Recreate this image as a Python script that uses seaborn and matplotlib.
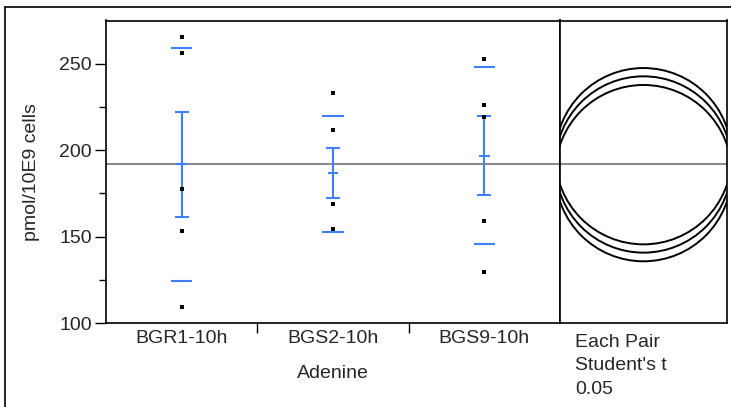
import numpy as np
import pandas as pd
import matplotlib
matplotlib.use("Agg")
import matplotlib.pyplot as plt
from matplotlib.patches import Circle
from matplotlib.lines import Line2D
import seaborn as sns

# values
groups = ["BGR1-10h", "BGS2-10h", "BGS9-10h"]
bgr1_points = [265.3, 256.4, 177.4, 153.1, 109.2]
bgs2_points = [233.2, 211.6, 168.9, 154.1]
bgs9_points = [252.5, 226.2, 219.3, 158.9, 129.7]
group_means = [191.7, 186.7, 196.5]
se_low = [161.4, 172.2, 174.1]
se_high = [221.8, 201.3, 219.7]
sd_low = [124.3, 152.7, 145.7]
sd_high = [258.9, 219.9, 248.3]
grand_mean = 191.7
circle_radius = 51.0
circle_text = ["Each Pair", "Student's t", "0.05"]

sns.set_theme(style="white")
plt.rcParams['font.family'] = ['Liberation Sans', 'DejaVu Sans']
fs = 14

df = pd.DataFrame({
    "group": [groups[0]] * len(bgr1_points) + [groups[1]] * len(bgs2_points) + [groups[2]] * len(bgs9_points),
    "value": bgr1_points + bgs2_points + bgs9_points,
})

W, H = 731, 407
fig = plt.figure(figsize=(W / 100, H / 100), dpi=100)
top, bottom = 20.5, 323
ax = fig.add_axes([106 / W, 1 - bottom / H, (560 - 106) / W, (bottom - top) / H])
ax2 = fig.add_axes([560 / W, 1 - bottom / H, (727 - 560) / W, (bottom - top) / H])

blue = "#3F7FFF"
ylim = (100, 275)

# points
sns.stripplot(data=df, x="group", y="value", order=groups, jitter=False,
              marker="s", size=2.6, color="black", linewidth=0, ax=ax, zorder=4)

x = np.arange(len(groups))
ax.axhline(grand_mean, color="#8a8a8a", lw=1.5, zorder=1)
ax.errorbar(x, group_means,
            yerr=[np.array(group_means) - np.array(se_low), np.array(se_high) - np.array(group_means)],
            fmt="none", ecolor=blue, elinewidth=1.5, capsize=5, capthick=1.5, zorder=3)
ax.hlines(group_means, x - 0.035, x + 0.035, color=blue, lw=1.5, zorder=3)
ax.hlines(sd_low, x - 0.07, x + 0.07, color=blue, lw=1.5, zorder=3)
ax.hlines(sd_high, x - 0.07, x + 0.07, color=blue, lw=1.5, zorder=3)

ax.set_xlim(-0.5, len(groups) - 0.5)
ax.set_ylim(*ylim)
ax.set_yticks([100, 150, 200, 250])
ax.set_yticks([125, 175, 225], minor=True)
ax.set_xticks(x)
ax.set_xticklabels(groups)
ax.set_xticks(x[:-1] + 0.5, minor=True)
ax.tick_params(axis="x", which="major", length=0, pad=5, labelsize=fs)
ax.tick_params(axis="x", which="minor", length=7, width=1, direction="out", color="black", bottom=True)
ax.tick_params(axis="y", which="major", length=8, width=1, direction="out", color="black", left=True, pad=2, labelsize=fs)
ax.tick_params(axis="y", which="minor", length=5, width=1, direction="out", color="black", left=True)
ax.set_xlabel("Adenine", fontsize=fs)
ax.xaxis.label.set_va("baseline")
ax.xaxis.set_label_coords(0.5, (bottom - 378) / (bottom - top))
ax.set_ylabel("pmol/10E9 cells", fontsize=fs)
ax.yaxis.set_label_coords((40 - 106) / (560 - 106), 0.5)
for s in ax.spines.values():
    s.set_color("black")
    s.set_linewidth(1.2)

# comparison circles panel
px_per_unit = (bottom - top) / (ylim[1] - ylim[0])
half_w = (727 - 560) / 2 / px_per_unit
ax2.set_xlim(-half_w, half_w)
ax2.set_ylim(*ylim)
ax2.axhline(grand_mean, color="#8a8a8a", lw=1.5, zorder=1)
for m in group_means:
    ax2.add_patch(Circle((0, m), circle_radius, fill=False, ec="black", lw=1.4, zorder=2))
ax2.set_xticks([])
ax2.set_yticks([])
for s in ax2.spines.values():
    s.set_color("black")
    s.set_linewidth(1.2)

for i, t in enumerate(circle_text):
    fig.text(575 / W, 1 - (347 + 23.3 * i) / H, t, ha="left", va="baseline", fontsize=fs)

# outer frame
fig.add_artist(Line2D([4.5 / W, 4.5 / W], [0, 1 - 7 / H], color="black", lw=1.2))
fig.add_artist(Line2D([4.5 / W, 1], [1 - 7 / H, 1 - 7 / H], color="black", lw=1.2))

fig.savefig("out.png", dpi=100)
